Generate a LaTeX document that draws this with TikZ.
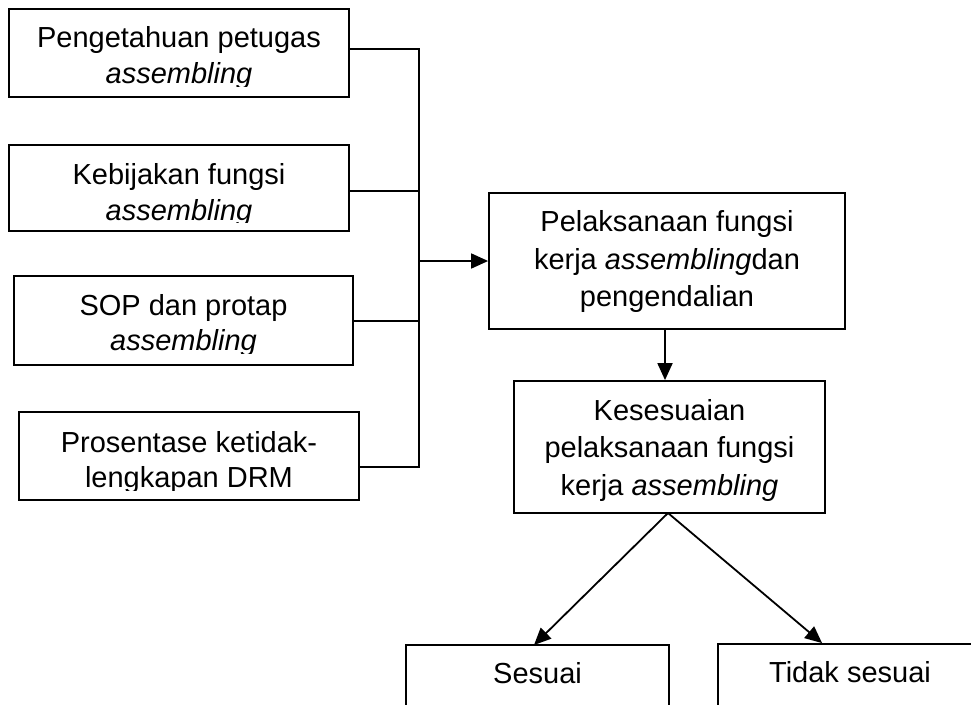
\documentclass[tikz,border=0pt]{standalone}
\usepackage{fontspec}
\setmainfont{Liberation Sans}
\usetikzlibrary{arrows.meta,calc}
\tikzset{
  boxnode/.style={draw=black, line width=1.8pt, inner sep=0pt, fill=none},
  txt/.style={inner sep=0pt, anchor=base, font=\fontsize{29}{35}\selectfont},
  conn/.style={draw=black, line width=1.8pt},
  arr/.style={conn, -{Triangle[length=17pt,width=15pt]}}
}
\begin{document}
\begin{tikzpicture}[x=1pt,y=-1pt]
\clip (0,0) rectangle (971,704);
\useasboundingbox (0,0) rectangle (971,704);
\fill[white] (0,0) rectangle (971,704);

% boxes
\node[boxnode, minimum width=340pt, minimum height=88pt] (b1) at (179,53) {};
\node[boxnode, minimum width=340pt, minimum height=86pt] (b2) at (179,188) {};
\node[boxnode, minimum width=339pt, minimum height=89pt] (b3) at (183.5,320.5) {};
\node[boxnode, minimum width=340pt, minimum height=88pt] (b4) at (189,456) {};
\node[boxnode, minimum width=356pt, minimum height=136pt] (b5) at (667,261) {};
\node[boxnode, minimum width=311pt, minimum height=132pt] (b6) at (669.5,447) {};
\node[boxnode, minimum width=263pt, minimum height=116pt] (b7) at (537.5,703) {};
\node[boxnode, minimum width=264pt, minimum height=116pt] (b8) at (850,702) {};

% texts (clipped at the bottom like the original)
\begin{scope}
\clip (9,9) rectangle (349,86);
\node[txt] (t1a) at (179,47.7) {Pengetahuan petugas};
\node[txt] (t1b) at (179,83.3) {\itshape assembling};
\end{scope}
\begin{scope}
\clip (9,145) rectangle (349,222.5);
\node[txt] (t2a) at (179,184.3) {Kebijakan fungsi};
\node[txt] (t2b) at (179,220) {\itshape assembling};
\end{scope}
\begin{scope}
\clip (14,276) rectangle (353,353);
\node[txt] (t3a) at (183.5,315) {SOP dan protap};
\node[txt] (t3b) at (183.5,350) {\itshape assembling};
\end{scope}
\begin{scope}
\clip (19,412) rectangle (359,490);
\node[txt] (t4a) at (189,452.7) {Prosentase ketidak-};
\node[txt] (t4b) at (189,487.7) {lengkapan DRM};
\end{scope}

\node[txt] (t5a) at (667,231.7) {Pelaksanaan fungsi};
\node[txt] (t5b) at (667,269) {kerja \textit{assembling}dan};
\node[txt] (t5c) at (667,306.7) {pengendalian};

\node[txt] (t6a) at (669.5,420) {Kesesuaian};
\node[txt] (t6b) at (669.5,457.3) {pelaksanaan fungsi};
\node[txt] (t6c) at (669.5,495) {kerja \textit{assembling}};

\node[txt] (t7) at (537.5,683) {Sesuai};
\node[txt] (t8) at (850,682) {Tidak sesuai};

% collector
\coordinate (j1) at (419,49);
\coordinate (j2) at (419,191);
\coordinate (j3) at (419,321);
\coordinate (j4) at (419,467);
\coordinate (jm) at (419,261);
\draw[conn] (b1.east |- j1) -- (j1) -- (j4) -- (b4.east |- j4);
\draw[conn] (b2.east |- j2) -- (j2);
\draw[conn] (b3.east |- j3) -- (j3);
\draw[arr] (jm) -- (b5.west);

% flow
\coordinate (s5) at (665,329);
\draw[arr] (s5) -- (s5 |- b6.north);
\coordinate (apex) at (668,513);
\coordinate (e7) at (534,645);
\coordinate (e8) at ($(b8.north west)+(105,0)$);
\draw[arr] (apex) -- (e7);
\draw[arr] (apex) -- (e8);
\end{tikzpicture}
\end{document}
